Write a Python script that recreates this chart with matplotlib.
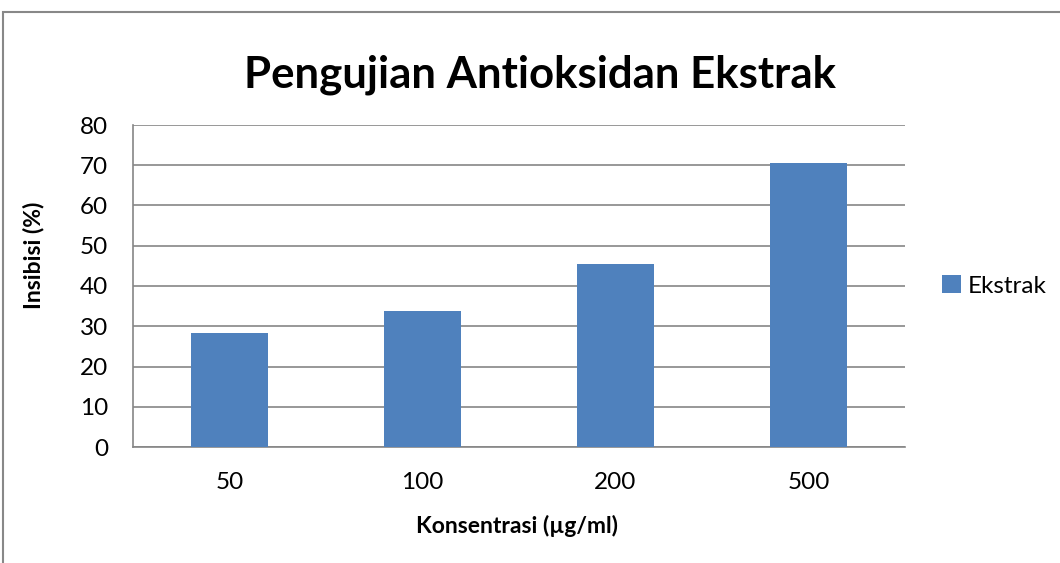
import matplotlib.pyplot as plt
from matplotlib.patches import Rectangle

categories = ['50', '100', '200', '500']
inhibition = [28.4, 33.9, 45.4, 70.5]
series_name = 'Ekstrak'

plt.rcParams['font.family'] = ['Lato', 'DejaVu Sans']

fig = plt.figure(figsize=(10.6, 5.63), dpi=100)
ax = fig.add_axes([133 / 1060, 1 - 447 / 563, 772 / 1060, 322 / 563])

# outer chart border (clipped on right/bottom like the original)
fig.patches.append(Rectangle((2.5 / 1060, -0.1), 1.2, 1 - 12.5 / 563 + 0.1,
                             transform=fig.transFigure, fill=False,
                             edgecolor='#888888', linewidth=1.5))

x = range(len(categories))
ax.bar(x, inhibition, width=0.4, color='#4f81bd', label=series_name, zorder=3)

ax.set_xlim(-0.5, len(categories) - 0.5)
ax.set_ylim(0, 80)
ax.set_yticks(range(0, 81, 10))
ax.set_xticks(list(x))
ax.set_xticklabels(categories)
ax.yaxis.grid(True, color='#868686', linewidth=1.2, zorder=0)
ax.tick_params(length=0, labelsize=17.5, pad=18)
ax.tick_params(axis='x', pad=18)

for side in ['top', 'right']:
    ax.spines[side].set_visible(False)
for side in ['left', 'bottom']:
    ax.spines[side].set_color('#868686')
    ax.spines[side].set_linewidth(1.2)

fig.text(0.5 * (133 + 905) / 1060 + 0.02, 1 - 75 / 563, 'Pengujian Antioksidan Ekstrak',
         fontsize=31.5, fontweight='bold', ha='center', va='center')
fig.text(517 / 1060, 1 - 526 / 563, 'Konsentrasi (µg/ml)',
         fontsize=16.5, fontweight='bold', ha='center', va='center')
fig.text(33 / 1060, 1 - 255 / 563, 'Insibisi (%)', rotation=90,
         fontsize=16.5, fontweight='bold', ha='center', va='center')

ax.legend(loc='center left', bbox_to_anchor=(1.02, 0.5), frameon=False,
          fontsize=17.5, handlelength=0.75, handleheight=0.75, handletextpad=0.3)

fig.savefig('out.png', dpi=100)
